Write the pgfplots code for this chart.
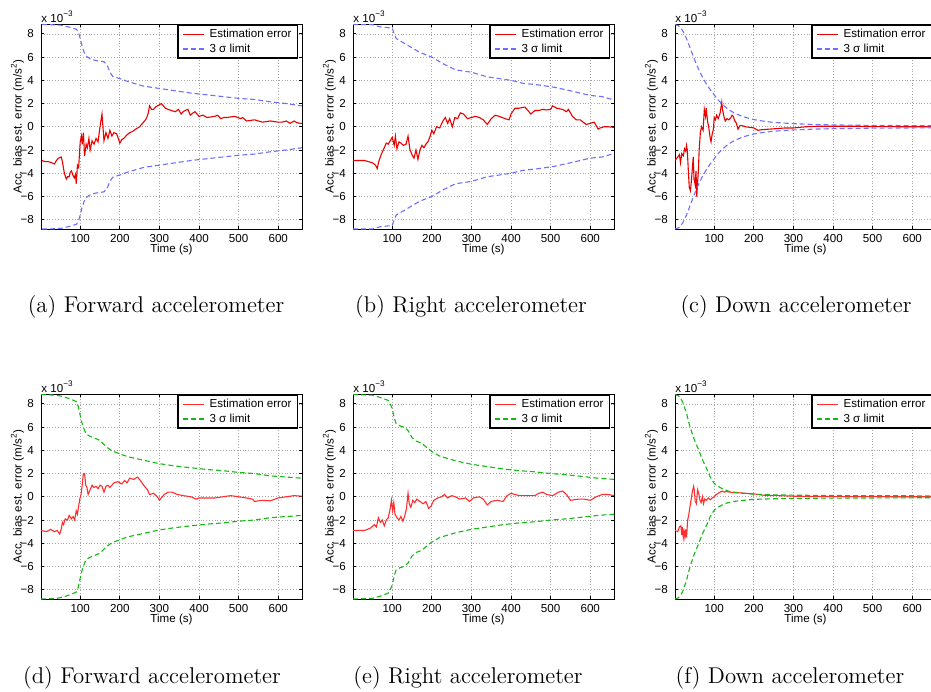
\documentclass[border=0pt]{standalone}
\usepackage{fontspec}
\usepackage{pgfplots}
\pgfplotsset{compat=1.18}
\usepackage{pgfplotstable}
\newfontfamily\plotfont{Liberation Sans}
\newcommand{\pf}{\plotfont\fontsize{5.8}{6.5}\selectfont}

\definecolor{sigblue}{RGB}{110,110,255}
\definecolor{siggreen}{RGB}{20,185,20}
\definecolor{errred}{RGB}{235,0,0}
\definecolor{errredtwo}{RGB}{255,45,45}

\pgfplotsset{
  accax/.style={
    scale only axis, width=130.5pt, height=102.5pt, anchor=north west,
    xmin=1, xmax=660, ymin=-8.8, ymax=8.85,
    xtick={100,200,...,600}, ytick={-8,-6,...,8},
    xticklabels={\mbox{100},\mbox{200},\mbox{300},\mbox{400},\mbox{500},\mbox{600}},
    yticklabels={\mbox{−8},\mbox{−6},\mbox{−4},\mbox{−2},\mbox{0},\mbox{2},\mbox{4},\mbox{6},\mbox{8}},
    scaled ticks=false,
    tick label style={font=\pf},
    xticklabel style={yshift=0.6pt},
    tick align=inside, major tick length=1.5pt,
    tick style={black, line width=0.4pt},
    grid=major, major grid style={densely dotted, gray!70, line width=0.35pt},
    axis line style={line width=0.45pt, black},
    xlabel={Time (s)},
    ylabel={Acc. bias est. error (m/s\textsuperscript{2})},
    every axis x label/.style={at={(axis description cs:0.5,-0.1)}, anchor=center, font=\pf},
    every axis y label/.style={at={(axis description cs:-0.09,0.5)}, rotate=90, anchor=center, font=\pf},
    legend style={at={(rel axis cs:0.985,0.995)}, anchor=north east, draw=black,
      line width=0.65pt, fill=white, inner xsep=2pt, inner ysep=0.6pt, font=\pf,
      nodes={inner sep=1pt, text height=4.3pt, text depth=1.2pt},
      column sep=1.5pt, cells={anchor=west}},
    after end axis/.code={
      \node[anchor=base west, inner sep=0pt, font=\pf, yshift=1pt] at (rel axis cs:0,1) {x 10\textsuperscript{−3}};
    },
  },
}

% ---------- (a) forward, row 1
\pgfplotstableread{
t e
3 -2.9
12 -3.0
20 -3.0
28 -3.1
35 -3.2
40 -2.9
45 -2.7
52 -2.6
55 -3.0
58 -3.6
60 -4.0
65 -4.5
68 -4.3
72 -4.3
75 -3.9
78 -3.8
82 -4.2
85 -4.4
88 -4.1
90 -4.9
93 -3.3
96 -3.5
100 -1.3
103 -0.8
105 -1.5
108 -0.5
111 -2.5
115 -1.5
118 -1.8
122 -1.0
125 -2.0
130 -1.2
135 -1.5
140 -1.0
145 -1.3
150 0.0
155 1.1
160 -1.2
165 -0.5
170 -1.0
175 -0.3
180 -0.8
185 -0.5
192 -0.6
196 -1.0
200 -1.4
205 -1.1
210 -1.0
218 -0.7
225 -0.5
232 -0.4
240 -0.2
245 -0.1
250 0.0
255 0.2
260 0.4
265 0.6
268 0.8
272 1.2
275 1.8
280 1.5
285 1.5
290 1.7
295 1.8
300 1.9
305 2.0
310 1.8
315 1.6
322 1.5
330 1.4
340 1.3
348 1.5
355 1.1
360 1.3
365 1.4
372 1.5
378 1.0
385 1.2
390 1.3
400 0.9
410 1.0
420 0.8
430 0.85
440 0.9
447 1.0
455 0.7
462 0.8
470 0.8
480 0.85
490 0.9
498 0.8
505 0.7
510 0.8
520 0.5
530 0.55
540 0.6
550 0.5
560 0.4
570 0.45
580 0.5
590 0.45
600 0.4
610 0.4
620 0.5
630 0.3
640 0.5
648 0.35
655 0.3
660 0.3
}\erra
\pgfplotstableread{
t up lo
3 8.80 -8.80
20 8.80 -8.80
50 8.75 -8.75
70 8.60 -8.60
90 8.40 -8.40
95 8.20 -8.20
100 7.60 -7.60
105 6.90 -6.90
110 6.40 -6.40
115 6.10 -6.10
125 5.85 -5.85
140 5.70 -5.70
160 5.60 -5.60
168 5.30 -5.30
175 4.70 -4.70
182 4.35 -4.35
190 4.25 -4.25
200 4.15 -4.15
220 3.90 -3.90
240 3.70 -3.70
260 3.50 -3.50
280 3.40 -3.40
300 3.30 -3.30
340 3.10 -3.10
380 2.90 -2.90
420 2.75 -2.75
460 2.60 -2.60
500 2.45 -2.45
540 2.35 -2.35
580 2.15 -2.15
620 2.00 -2.00
660 1.80 -1.80
}\siga

% ---------- (b) right, row 1
\pgfplotstableread{
t e
1 -2.9
15 -2.9
30 -2.9
40 -3.0
50 -3.1
58 -3.3
62 -3.6
66 -3.0
72 -2.4
76 -2.1
80 -1.8
85 -1.4
90 -1.5
95 -1.2
100 -0.9
105 -1.6
108 -0.8
112 -1.9
117 -1.3
122 -1.4
128 -1.6
135 -1.5
140 -0.8
145 -2.0
150 -2.4
155 -2.7
160 -2.0
165 -2.8
170 -2.0
175 -1.6
180 -1.8
185 -1.5
190 -1.3
195 -0.9
200 -0.3
205 -0.6
212 0.0
220 -0.1
228 0.5
234 0.8
240 0.3
245 0.7
252 0.0
258 0.8
265 0.7
272 1.2
280 1.1
290 0.7
300 0.8
310 0.9
320 0.8
330 0.6
340 0.2
350 0.7
360 1.0
370 0.9
385 0.7
395 0.6
400 1.1
410 1.6
420 1.6
435 1.7
440 1.5
450 1.1
460 1.4
470 1.4
480 1.5
490 1.45
500 1.5
505 1.8
515 1.6
530 1.5
540 1.3
545 1.5
555 0.9
565 0.6
575 0.6
582 0.4
590 0.2
600 0.3
610 0.4
620 -0.2
625 -0.1
635 0.0
645 0.0
660 -0.05
}\errb
\pgfplotstableread{
t up lo
1 8.80 -8.80
50 8.80 -8.80
70 8.60 -8.60
100 8.50 -8.50
105 8.00 -8.00
110 7.60 -7.60
130 7.20 -7.20
150 6.80 -6.80
170 6.40 -6.40
200 6.00 -6.00
230 5.40 -5.40
260 4.90 -4.90
300 4.70 -4.70
340 4.30 -4.30
400 4.00 -4.00
430 3.75 -3.75
470 3.60 -3.60
510 3.40 -3.40
550 3.10 -3.10
600 2.70 -2.70
630 2.60 -2.60
660 2.30 -2.30
}\sigb

% ---------- (c) down, row 1
\pgfplotstableread{
t e
1 -2.9
8 -2.6
12 -2.4
15 -3.1
18 -2.3
22 -2.5
25 -1.9
28 -2.1
30 -1.6
32 -2.0
35 -4.0
37 -5.2
40 -5.5
42 -4.8
45 -3.5
47 -2.6
49 -4.5
52 -5.0
54 -3.8
56 -6.0
58 -4.8
60 -3.8
62 -2.0
65 -0.5
68 0.0
72 -0.3
75 1.5
78 0.9
80 1.6
83 0.5
86 0.0
90 -1.0
92 -1.3
95 -0.6
98 -0.2
100 0.8
103 0.6
106 1.0
110 0.7
115 1.2
119 2.1
121 1.5
125 0.8
128 0.5
132 0.7
137 0.6
142 0.8
145 1.0
148 0.9
152 0.5
156 0.3
160 -0.2
165 0.1
170 0.1
180 0.0
190 -0.05
200 -0.1
210 -0.3
220 -0.25
240 -0.2
260 -0.15
280 -0.1
300 -0.1
330 0.0
360 0.05
400 0.05
450 0.05
500 0.02
600 0.0
660 0.0
}\errc
\pgfplotstableread{
t up lo
1 8.80 -8.80
10 8.70 -8.70
20 8.30 -8.30
30 7.60 -7.60
40 6.70 -6.70
50 5.80 -5.80
60 5.00 -5.00
70 4.30 -4.30
80 3.70 -3.70
90 3.20 -3.20
100 2.75 -2.75
110 2.30 -2.30
120 1.95 -1.95
130 1.65 -1.65
140 1.40 -1.40
150 1.20 -1.20
165 0.98 -0.98
180 0.80 -0.80
200 0.62 -0.62
225 0.48 -0.48
250 0.38 -0.38
300 0.27 -0.27
350 0.20 -0.20
400 0.16 -0.16
500 0.12 -0.12
600 0.10 -0.10
660 0.09 -0.09
}\sigc

% ---------- (d) forward, row 2
\pgfplotstableread{
t e
1 -2.9
15 -3.0
25 -2.8
35 -3.0
42 -2.9
48 -3.2
52 -2.8
55 -2.2
58 -2.4
62 -1.9
68 -2.0
72 -1.6
78 -1.9
82 -1.7
86 -2.0
90 -1.2
93 -1.5
96 -0.8
99 -0.2
102 0.2
105 1.0
108 2.0
111 2.0
114 1.0
117 0.8
120 0.2
125 0.6
130 1.0
135 0.8
140 0.9
145 0.7
150 1.0
155 0.9
160 0.4
165 0.9
170 1.0
175 0.8
185 1.2
195 1.3
205 1.1
212 1.4
218 1.2
225 1.6
235 1.5
245 1.7
252 1.4
260 1.0
270 0.6
275 0.2
285 0.3
295 0.0
300 -0.3
305 -0.1
312 0.2
322 0.4
332 0.4
345 0.2
360 0.1
380 0.0
392 -0.2
400 -0.1
420 -0.1
440 -0.1
460 0.0
480 0.1
500 0.0
520 -0.1
535 -0.2
540 -0.4
560 -0.3
580 -0.35
600 -0.1
620 0.0
640 0.1
660 0.05
}\errd
\pgfplotstableread{
t up lo
1 8.80 -8.80
40 8.75 -8.75
60 8.60 -8.60
80 8.35 -8.35
90 8.20 -8.20
95 7.80 -7.80
100 7.00 -7.00
105 6.30 -6.30
110 5.80 -5.80
115 5.40 -5.40
125 5.20 -5.20
140 5.00 -5.00
150 4.85 -4.85
160 4.50 -4.50
170 4.20 -4.20
180 3.95 -3.95
200 3.70 -3.70
220 3.45 -3.45
240 3.30 -3.30
260 3.15 -3.15
300 2.85 -2.85
340 2.65 -2.65
380 2.50 -2.50
420 2.35 -2.35
460 2.25 -2.25
500 2.10 -2.10
540 2.00 -2.00
560 1.90 -1.90
580 1.80 -1.80
620 1.70 -1.70
660 1.60 -1.60
}\sigd

% ---------- (e) right, row 2
\pgfplotstableread{
t e
1 -2.9
30 -2.9
45 -2.7
55 -2.4
60 -2.6
65 -1.8
70 -2.2
75 -2.0
80 -2.5
85 -2.0
90 -1.8
95 -1.0
98 -0.3
101 -1.2
104 -0.5
107 -1.5
112 -1.8
117 -2.0
122 -1.7
127 -2.1
132 -1.6
136 -1.0
140 0.3
143 -0.6
147 -0.9
152 -0.3
157 -0.5
162 -0.2
170 -0.4
178 -0.6
185 -0.4
192 -1.0
198 -0.8
205 -0.3
215 -0.1
225 0.0
232 0.2
240 -0.1
250 0.1
260 0.0
270 -0.2
285 -0.1
295 -0.4
305 -0.1
320 0.0
330 -0.2
340 -0.7
350 -0.4
365 -0.3
380 -0.4
390 0.1
400 0.3
420 0.1
440 0.1
460 0.1
470 0.3
480 0.4
490 0.2
505 0.1
520 0.4
530 0.5
540 0.2
550 -0.3
570 -0.2
585 -0.2
600 -0.3
615 0.0
630 0.2
645 0.2
660 0.1
}\erre
\pgfplotstableread{
t up lo
1 8.80 -8.80
50 8.75 -8.75
70 8.55 -8.55
90 8.30 -8.30
95 8.00 -8.00
100 7.60 -7.60
105 6.80 -6.80
110 6.30 -6.30
120 6.10 -6.10
130 6.00 -6.00
140 5.70 -5.70
150 5.10 -5.10
160 4.80 -4.80
175 4.60 -4.60
185 4.30 -4.30
200 3.90 -3.90
220 3.50 -3.50
240 3.30 -3.30
260 3.10 -3.10
280 2.95 -2.95
300 2.80 -2.80
340 2.60 -2.60
380 2.40 -2.40
420 2.25 -2.25
460 2.15 -2.15
500 2.00 -2.00
540 1.90 -1.90
580 1.75 -1.75
620 1.60 -1.60
660 1.50 -1.50
}\sige

% ---------- (f) down, row 2
\pgfplotstableread{
t e
1 -2.9
8 -3.0
12 -2.6
16 -2.5
18 -3.3
20 -2.6
22 -3.5
24 -3.0
26 -3.5
28 -2.8
30 -3.5
33 -2.0
36 -1.5
39 -0.8
42 -0.2
45 0.5
48 0.9
50 0.5
52 -0.4
55 -0.6
58 0.6
61 0.3
64 -0.3
67 -0.5
70 0.0
73 -0.6
76 -0.2
80 -0.3
85 -0.1
90 -0.25
95 -0.1
100 0.0
105 0.2
110 0.3
115 0.4
120 0.5
125 0.4
130 0.45
140 0.4
150 0.35
160 0.35
180 0.3
200 0.25
220 0.15
240 0.1
260 0.1
300 0.05
400 0.02
660 0.0
}\errf
\pgfplotstableread{
t up lo
1 8.80 -8.80
10 8.70 -8.70
20 8.20 -8.20
30 7.20 -7.20
35 6.50 -6.50
40 5.90 -5.90
50 4.90 -4.90
60 4.10 -4.10
70 3.20 -3.20
80 2.50 -2.50
90 1.70 -1.70
100 1.15 -1.15
110 0.90 -0.90
120 0.70 -0.70
135 0.50 -0.50
150 0.40 -0.40
175 0.30 -0.30
200 0.22 -0.22
250 0.17 -0.17
300 0.14 -0.14
400 0.11 -0.11
500 0.10 -0.10
660 0.08 -0.08
}\sigf

% one panel: #1 position, #2 error table, #3 sigma table, #4 error colour, #5 sigma colour
\newcommand{\accpanel}[5]{%
\begin{axis}[accax, at={#1}]
\addplot[color=#4, line width=0.55pt, forget plot] table[x=t,y=e]{#2};
\addplot[color=#5, line width=0.55pt, dash pattern=on 2.5pt off 1.5pt, forget plot] table[x=t,y=up]{#3};
\addplot[color=#5, line width=0.55pt, dash pattern=on 2.5pt off 1.5pt, forget plot] table[x=t,y=lo]{#3};
\addlegendimage{legend image code/.code={%
  \draw[draw=#4, line width=0.6pt] (0pt,0pt) -- (10.5pt,0pt);}}
\addlegendentry{Estimation error}
\addlegendimage{legend image code/.code={%
  \draw[draw=#5, line width=0.8pt, dash pattern=on 2.5pt off 1.5pt] (0pt,0.25pt) -- (10.5pt,0.25pt);}}
\addlegendentry{3 σ limit}
\end{axis}}

\begin{document}
\begin{tikzpicture}

\accpanel{(20.5pt,-12pt)}{\erra}{\siga}{errred}{sigblue}
\accpanel{(176.5pt,-12pt)}{\errb}{\sigb}{errred}{sigblue}
\accpanel{(337.5pt,-12pt)}{\errc}{\sigc}{errred}{sigblue}

\accpanel{(20.5pt,-197pt)}{\errd}{\sigd}{errredtwo}{siggreen}
\accpanel{(176.5pt,-197pt)}{\erre}{\sige}{errredtwo}{siggreen}
\accpanel{(337.5pt,-197pt)}{\errf}{\sigf}{errredtwo}{siggreen}

% sub-captions
\begin{scope}[every node/.style={font=\fontsize{11.4}{13}\selectfont, inner sep=0pt}]
\node at (78pt,-153.5pt) {(a) Forward accelerometer};
\node at (235.5pt,-153.5pt) {(b) Right accelerometer};
\node at (398pt,-153.5pt) {(c) Down accelerometer};
\node at (76pt,-339pt) {(d) Forward accelerometer};
\node at (234pt,-339pt) {(e) Right accelerometer};
\node at (395pt,-339pt) {(f) Down accelerometer};
\end{scope}

\pgfresetboundingbox
\useasboundingbox (0pt,0pt) rectangle (465.5pt,-345.5pt);
\end{tikzpicture}
\end{document}
